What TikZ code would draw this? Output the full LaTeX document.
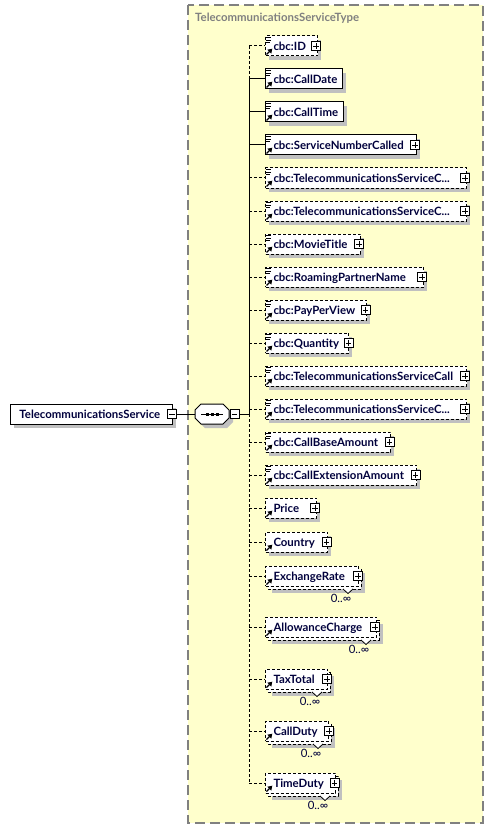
\documentclass[tikz,border=0pt]{standalone}
\usepackage{fontspec}
\setmainfont{Lato}
\usetikzlibrary{calc}
\definecolor{bgy}{RGB}{255,255,204}
\definecolor{bordg}{RGB}{128,128,128}
\definecolor{shad}{RGB}{192,192,192}
\definecolor{navy}{RGB}{0,0,60}
\tikzset{
  optl/.style={dash pattern=on 3pt off 2pt},
  conn/.style={line width=1pt},
  ebox/.style={draw, fill=white, line width=1pt, minimum height=20pt, inner xsep=0pt, inner ysep=0pt,
    text height=8.2pt, text depth=0pt, font=\fontsize{11.4}{13}\selectfont\bfseries, text=navy},
  pmbox/.style={draw, fill=white, line width=0.8pt, minimum size=9pt, inner sep=0pt},
  multtxt/.style={font=\fontsize{11.4}{13}\selectfont, text=navy, inner sep=0pt, text height=8.2pt, text depth=0pt},
}
\newcommand\docicon[1]{\draw[line width=0.7pt] (265.5,#1-8.3) -- (271,#1-8.3) (265.5,#1-6) -- (271,#1-6) (265.5,#1-3.8) -- (270,#1-3.8);}
\newcommand\refarrow[1]{\draw[line width=1.1pt] (266.5,#1+8.5) -- (269.5,#1+5.5);
  \fill (272.3,#1+2.7) -- (267.4,#1+3.7) -- (271.3,#1+7.6) -- cycle;}
\newcommand\pbox[3]{\node[pmbox] (p#1) at (#2,#3) {};
  \draw[line width=0.8pt] ({#2-2.7},#3) -- ({#2+2.7},#3) (#2,{#3-2.7}) -- (#2,{#3+2.7});}
\newcommand\elem[5]{%
  \coordinate (b#1) at (249,#2);
  \fill[shad] (269,#2-6) rectangle ({#3+4},{#2+14});
  \node[ebox,#5,anchor=west] (e#1) at (265,#2) {\makebox[\dimexpr#3pt-265pt\relax][l]{\hspace*{8pt}#4}};
  \draw[conn,#5] (b#1) -- (e#1.west);
  \refarrow{#2}}
\newcommand\relem[4]{%
  \coordinate (b#1) at (249,#2);
  \fill[shad] (272,#2-3) rectangle ({#3+7},{#2+17});
  \draw[optl,fill=white,line width=1pt] (268,#2-7) rectangle ({#3+3},{#2+13});
  \node[ebox,optl,anchor=west] (e#1) at (265,#2) {\makebox[\dimexpr#3pt-265pt\relax][l]{\hspace*{8pt}#4}};
  \draw[conn,optl] (b#1) -- (e#1.west);
  \refarrow{#2}
  \draw[fill=white,line width=0.8pt] ({#3-15},{#2+13}) -- ({#3-10},{#2+17.5}) -- ({#3-5},{#2+13});
  \node[multtxt] (m#1) at ({#3-17},{#2+22}) {0..∞};}
\begin{document}
\begin{tikzpicture}[x=1pt,y=-1pt]
\useasboundingbox (0,0) rectangle (495,829);
% type background
\fill[bgy] (188,5) rectangle (483,823);
\draw[bordg, line width=1.3pt, dash pattern=on 10pt off 5pt] (188,5) rectangle (483,823);
\node[anchor=base west, inner sep=0pt, text=bordg, font=\fontsize{11.4}{13}\selectfont\bfseries] (title) at (195,22) {TelecommunicationsServiceType};
% root element
\fill[shad] (14,408) rectangle (176,428);
\node[ebox, anchor=west] (root) at (10,414) {\makebox[162pt][l]{\hspace*{9pt}TelecommunicationsService}};
\node[pmbox] (rootm) at (172,414) {};
\draw[line width=0.8pt] (169.3,414) -- (174.7,414);
% sequence compositor
\node[minimum width=34pt, minimum height=20pt, inner sep=0pt] (seq) at (212,414) {};
\fill[shad] (205,408) -- (227,408) -- (233,414) -- (233,422) -- (227,428) -- (205,428) -- (199,422) -- (199,414) -- cycle;
\draw[line width=1pt, fill=white] (201,404) -- (223,404) -- (229,410) -- (229,418) -- (223,424) -- (201,424) -- (195,418) -- (195,410) -- cycle;
\draw[line width=1pt] (201,414) -- (223,414);
\fill (206.2,412.5) rectangle (209.2,415.5);
\fill (211.2,412.5) rectangle (214.2,415.5);
\fill (216.2,412.5) rectangle (219.2,415.5);
\node[pmbox] (seqm) at (234.5,414) {};
\draw[line width=0.8pt] (231.8,414) -- (237.2,414);
\coordinate (jn) at (249,414);
\draw[conn] (rootm.east) -- (seq.west);
\draw[conn] (seqm.east) -- (jn);
% elements
\elem{1}{46}{317}{cbc:ID}{optl}\docicon{46}\pbox{1}{316}{46}
\elem{2}{79}{342}{cbc:CallDate}{}\docicon{79}
\elem{3}{112}{343}{cbc:CallTime}{}\docicon{112}
\elem{4}{145}{416}{cbc:ServiceNumberCalled}{}\docicon{145}\pbox{4}{415}{145}
\elem{5}{178}{466}{cbc:TelecommunicationsServiceC...}{optl}\docicon{178}\pbox{5}{465}{178}
\elem{6}{211}{466}{cbc:TelecommunicationsServiceC...}{optl}\docicon{211}\pbox{6}{465}{211}
\elem{7}{244}{360}{cbc:MovieTitle}{optl}\docicon{244}\pbox{7}{359}{244}
\elem{8}{277}{423}{cbc:RoamingPartnerName}{optl}\docicon{277}\pbox{8}{422}{277}
\elem{9}{310}{366}{cbc:PayPerView}{optl}\docicon{310}\pbox{9}{365.5}{310}
\elem{10}{343}{348}{cbc:Quantity}{optl}\docicon{343}\pbox{10}{348.5}{343}
\elem{11}{376}{466}{cbc:TelecommunicationsServiceCall}{optl}\docicon{376}\pbox{11}{465}{376}
\elem{12}{409}{466}{cbc:TelecommunicationsServiceC...}{optl}\docicon{409}\pbox{12}{465}{409}
\elem{13}{442}{390}{cbc:CallBaseAmount}{optl}\docicon{442}\pbox{13}{389.5}{442}
\elem{14}{475}{416}{cbc:CallExtensionAmount}{optl}\docicon{475}\pbox{14}{415.5}{475}
\elem{15}{508}{316}{Price}{optl}\pbox{15}{315}{508}
\elem{16}{542}{327}{Country}{optl}\pbox{16}{326.5}{542}
\relem{17}{576}{358}{ExchangeRate}\pbox{17}{358}{576}
\relem{18}{627}{376}{AllowanceCharge}\pbox{18}{375}{627}
\relem{19}{679}{327}{TaxTotal}\pbox{19}{327}{679}
\relem{20}{731}{328}{CallDuty}\pbox{20}{329}{731}
\relem{21}{783}{335}{TimeDuty}\pbox{21}{334.5}{783}
% vertical spine
\draw[conn,optl] (b1) -- (b2);
\draw[conn] (b2) -- (jn);
\draw[conn,optl] (jn) -- (b21);
\end{tikzpicture}
\end{document}
